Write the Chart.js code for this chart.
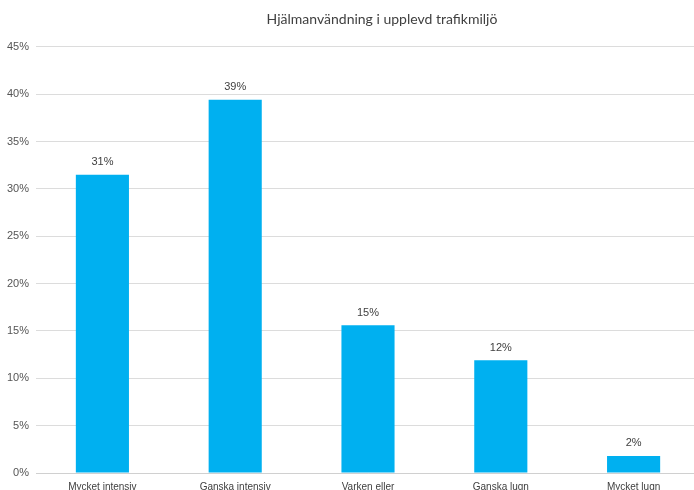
<!DOCTYPE html>
<html>
<head>
<meta charset="utf-8">
<script src="https://cdn.jsdelivr.net/npm/chart.js@4"></script>
<style>
html,body{margin:0;padding:0;background:#fff;overflow:hidden;}
#wrap{position:relative;width:700px;height:500px;}
</style>
</head>
<body>
<div id="wrap"><canvas id="c"></canvas></div>
<script>
const categories = ["Mycket intensiv", "Ganska intensiv", "Varken eller", "Ganska lugn", "Mycket lugn"];
const values = [31.5, 39.4, 15.6, 11.9, 1.8];
const valueLabels = ["31%", "39%", "15%", "12%", "2%"];
const titleText = "Hjälmanvändning i upplevd trafikmiljö";

const labelPlugin = {
  id: 'barLabels',
  afterDatasetsDraw(chart) {
    const ctx = chart.ctx;
    const meta = chart.getDatasetMeta(0);
    ctx.save();
    ctx.font = '11px "Liberation Sans", Arial, sans-serif';
    ctx.fillStyle = '#404040';
    ctx.textAlign = 'center';
    ctx.textBaseline = 'bottom';
    meta.data.forEach((bar, i) => {
      ctx.fillText(valueLabels[i], bar.x, bar.y - 7);
    });
    // title, drawn off-centre as in the reference
    ctx.font = '14px Lato, "Open Sans", sans-serif';
    ctx.fillStyle = '#404040';
    ctx.textAlign = 'center';
    ctx.textBaseline = 'middle';
    ctx.fillText(titleText, 382, 19);
    ctx.restore();
  }
};

new Chart(document.getElementById('c'), {
  type: 'bar',
  data: {
    labels: categories,
    datasets: [{
      data: values,
      backgroundColor: '#00b0f0',
      barPercentage: 0.4,
      categoryPercentage: 1.0
    }]
  },
  options: {
    responsive: true,
    maintainAspectRatio: false,
    animation: false,
    layout: { padding: { left: 0, right: 0, top: 0, bottom: 0 } },
    plugins: {
      legend: { display: false },
      tooltip: { enabled: false },
      title: {
        display: true,
        text: titleText,
        color: 'rgba(0,0,0,0)',
        font: { family: 'Lato, "Open Sans", sans-serif', size: 14, weight: 'normal' },
        padding: { top: 10, bottom: 20 }
      }
    },
    scales: {
      x: {
        grid: { display: false, drawTicks: false },
        border: { display: true, color: '#d0d0d0' },
        ticks: { color: '#404040', font: { family: '"Liberation Sans", Arial, sans-serif', size: 10 }, padding: 8, maxRotation: 0 },
        afterFit(axis) { axis.height = 27; }
      },
      y: {
        min: 0, max: 45,
        ticks: {
          stepSize: 5,
          color: '#555',
          font: { family: '"Liberation Sans", Arial, sans-serif', size: 11 },
          padding: 7,
          callback: v => v + '%'
        },
        grid: { color: '#dcdcdc', drawTicks: false },
        border: { display: false },
        afterFit(axis) { axis.width = 36; }
      }
    }
  },
  plugins: [labelPlugin]
});
</script>
</body>
</html>
